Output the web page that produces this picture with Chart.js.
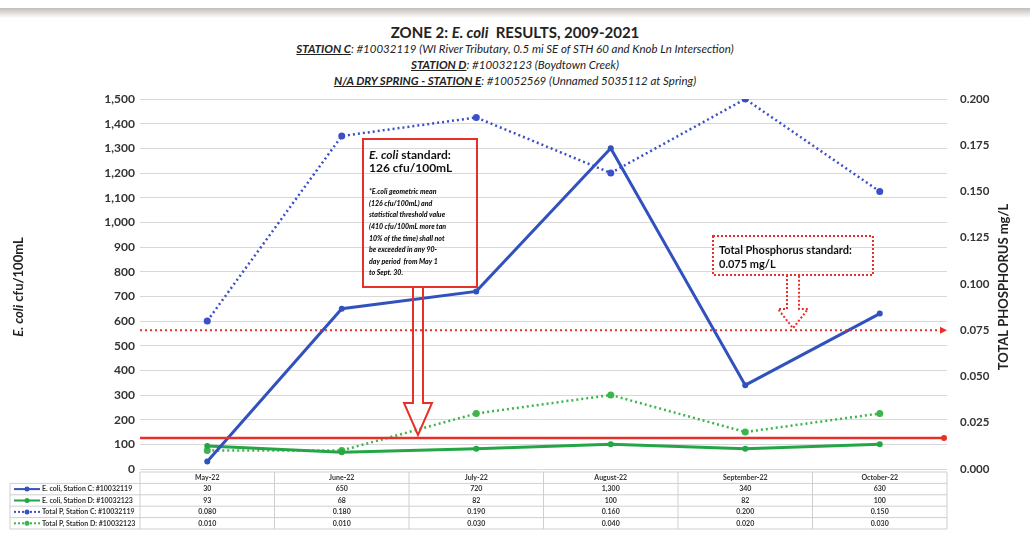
<!DOCTYPE html>
<html>
<head>
<meta charset="utf-8">
<script src="https://cdn.jsdelivr.net/npm/chart.js@4.4.0/dist/chart.umd.min.js"></script>
<style>
  body { margin: 0; background: #fff; }
  #wrap { position: relative; width: 1030px; height: 544px; overflow: hidden; font-family: Lato, 'Open Sans', sans-serif; }
  #scan { position: absolute; left: 0; top: 8px; width: 1030px; height: 10px; background: linear-gradient(#c4bdba, #fff); }
  #title { position: absolute; left: 0; top: 23px; width: 1030px; text-align: center; color: #222; }
  #title .t1 { font-size: 15px; font-weight: bold; line-height: 18px; }
  #title .t2 { font-size: 11.5px; font-style: italic; line-height: 16px; }
  #title u { font-weight: bold; }
  canvas { position: absolute; left: 0; top: 0; }
</style>
</head>
<body>
<div id="wrap">
  <div id="scan"></div>
  <div id="title">
    <div class="t1">ZONE 2: <i>E. coli</i>&nbsp; RESULTS, 2009-2021</div>
    <div class="t2"><u>STATION C</u>: #10032119 (WI River Tributary, 0.5 mi SE of STH 60 and Knob Ln Intersection)</div>
    <div class="t2"><u>STATION D</u>: #10032123 (Boydtown Creek)</div>
    <div class="t2"><u>N/A DRY SPRING - STATION E</u>: #10052569 (Unnamed 5035112 at Spring)</div>
  </div>
  <canvas id="chart" width="1030" height="544"></canvas>
</div>
<script>
// 월별 측정값
const MONTHS = ['May-22', 'June-22', 'July-22', 'August-22', 'September-22', 'October-22'];
const ECOLI_C = [30, 650, 720, 1300, 340, 630];
const ECOLI_D = [93, 68, 82, 100, 82, 100];
const TP_C = [0.080, 0.180, 0.190, 0.160, 0.200, 0.150];
const TP_D = [0.010, 0.010, 0.030, 0.040, 0.020, 0.030];
const SERIES_LABELS = [
  'E. coli, Station C: #10032119',
  'E. coli, Station D: #10032123',
  'Total P, Station C: #10032119',
  'Total P, Station D: #10032123'
];
const ECOLI_AXIS = [0, 1500, 100];   // min, max, step
const TP_AXIS = [0, 0.2, 0.025];
const ECOLI_STANDARD = 126;
const TP_STANDARD = 0.075;

const BLUE = '#3152be', GREEN = '#25a646', BLUE_D = '#3b4fc6', GREEN_D = '#3bb54c', RED = '#e8302a';
const FONT = 'Lato, "Open Sans", sans-serif';

function line(ctx, x1, y1, x2, y2) {
  ctx.beginPath(); ctx.moveTo(x1, y1); ctx.lineTo(x2, y2); ctx.stroke();
}

// 아래 방향 블록 화살표 (윤곽선만)
function blockArrow(ctx, cx, top, shaftW, headTop, headW, tip) {
  ctx.beginPath();
  ctx.moveTo(cx - shaftW / 2, top);
  ctx.lineTo(cx - shaftW / 2, headTop);
  ctx.lineTo(cx - headW / 2, headTop);
  ctx.lineTo(cx, tip);
  ctx.lineTo(cx + headW / 2, headTop);
  ctx.lineTo(cx + shaftW / 2, headTop);
  ctx.lineTo(cx + shaftW / 2, top);
  ctx.stroke();
}

const overlay = {
  id: 'overlay',
  afterDatasetsDraw(chart) {
    const { ctx, chartArea: ca } = chart;
    const y = chart.scales.y, y1 = chart.scales.y1;
    ctx.save();
    // E. coli 기준선
    const pe = y.getPixelForValue(ECOLI_STANDARD);
    ctx.strokeStyle = RED; ctx.lineWidth = 2.5;
    line(ctx, ca.left, pe, ca.right - 3, pe);
    ctx.fillStyle = RED;
    ctx.beginPath(); ctx.arc(ca.right - 3, pe, 3, 0, Math.PI * 2); ctx.fill();
    // 총인 기준선
    const pt = y1.getPixelForValue(TP_STANDARD);
    ctx.lineWidth = 2; ctx.setLineDash([2, 3]);
    line(ctx, ca.left, pt, ca.right - 6, pt);
    ctx.setLineDash([]);
    ctx.beginPath(); ctx.moveTo(ca.right - 7, pt - 3.5); ctx.lineTo(ca.right, pt); ctx.lineTo(ca.right - 7, pt + 3.5); ctx.fill();

    // E. coli 기준 설명 상자
    ctx.lineWidth = 2;
    ctx.strokeRect(363, 139, 114, 148);
    blockArrow(ctx, 418, 287, 10, 403, 28, pe - 3);
    ctx.fillStyle = '#111'; ctx.textBaseline = 'middle';
    ctx.font = `italic bold 12px ${FONT}`;
    ctx.fillText('E. coli', 369, 155);
    const w = ctx.measureText('E. coli').width;
    ctx.font = `bold 12px ${FONT}`;
    ctx.fillText(' standard:', 369 + w, 155);
    ctx.fillText('126 cfu/100mL', 369, 168);
    ctx.font = `italic 900 7px ${FONT}`;
    ['*E.coli geometric mean', '(126 cfu/100mL) and', 'statistical threshold value',
     '(410 cfu/100mL more tan', '10% of the time) shall not', 'be exceeded in any 90-',
     'day period  from May 1', 'to Sept. 30.'].forEach((t, i) => ctx.fillText(t, 369, 192 + i * 11.6));

    // 총인 기준 설명 상자 (점선)
    ctx.setLineDash([2, 2]); ctx.lineWidth = 2;
    ctx.strokeRect(713, 236, 160, 39);
    blockArrow(ctx, 793, 275, 12, 309, 30, pt - 2);
    ctx.setLineDash([]);
    ctx.font = `bold 11px ${FONT}`;
    ctx.fillText('Total Phosphorus standard:', 719, 250);
    ctx.fillText('0.075 mg/L', 719, 264);
    ctx.restore();
  },
  afterDraw(chart) {
    const { ctx, chartArea: ca } = chart;
    const x = chart.scales.x;
    ctx.save();
    // 축 제목
    ctx.fillStyle = '#222'; ctx.textBaseline = 'middle';
    ctx.save();
    ctx.translate(19, 287); ctx.rotate(-Math.PI / 2);
    ctx.font = `italic bold 13px ${FONT}`;
    const a = ctx.measureText('E. coli').width;
    ctx.font = `bold 13px ${FONT}`;
    const b = ctx.measureText(' cfu/100mL').width;
    ctx.font = `italic bold 13px ${FONT}`;
    ctx.fillText('E. coli', -(a + b) / 2, 0);
    ctx.font = `bold 13px ${FONT}`;
    ctx.fillText(' cfu/100mL', -(a + b) / 2 + a, 0);
    ctx.restore();
    ctx.save();
    ctx.translate(1004, 287); ctx.rotate(-Math.PI / 2);
    ctx.font = `bold 13px ${FONT}`; ctx.textAlign = 'center';
    ctx.fillText('TOTAL PHOSPHORUS mg/L', 0, 0);
    ctx.restore();

    // 데이터 테이블
    const step = x.getPixelForValue(1) - x.getPixelForValue(0);
    const L = 10, C = ca.left, R = ca.right, top = 472, rh = 11.4;
    const rows = [
      { label: SERIES_LABELS[0], color: BLUE, dash: [], vals: ECOLI_C.map(v => v.toLocaleString('en-US')) },
      { label: SERIES_LABELS[1], color: GREEN, dash: [], vals: ECOLI_D.map(v => v.toLocaleString('en-US')) },
      { label: SERIES_LABELS[2], color: BLUE_D, dash: [2, 2], vals: TP_C.map(v => v.toFixed(3)) },
      { label: SERIES_LABELS[3], color: GREEN_D, dash: [2, 2], vals: TP_D.map(v => v.toFixed(3)) }
    ];
    const bottom = top + rh * 5;
    ctx.strokeStyle = '#cfcfcf'; ctx.lineWidth = 1;
    line(ctx, C, top, R, top);
    for (let r = 1; r <= 5; r++) line(ctx, L, top + rh * r, R, top + rh * r);
    line(ctx, L, top + rh, L, bottom);
    line(ctx, C, top, C, bottom);
    MONTHS.forEach((m, i) => {
      const xr = x.getPixelForValue(i) + step / 2;
      line(ctx, xr, top, xr, bottom);
    });
    ctx.fillStyle = '#333'; ctx.font = `bold 7px ${FONT}`; ctx.textAlign = 'center';
    MONTHS.forEach((m, i) => ctx.fillText(m, x.getPixelForValue(i), top + rh / 2));
    rows.forEach((row, r) => {
      const cy = top + rh * (r + 1.5);
      row.vals.forEach((v, i) => ctx.fillText(v, x.getPixelForValue(i), cy));
      ctx.strokeStyle = row.color; ctx.lineWidth = 2; ctx.setLineDash(row.dash);
      line(ctx, 14, cy, 40, cy);
      ctx.setLineDash([]);
      ctx.fillStyle = row.color;
      ctx.beginPath(); ctx.arc(27, cy, 2.5, 0, Math.PI * 2); ctx.fill();
      ctx.fillStyle = '#333'; ctx.textAlign = 'left';
      ctx.fillText(row.label, 42, cy);
      ctx.textAlign = 'center';
    });
    ctx.restore();
  }
};

function series(label, data, color, axis, dashed) {
  return {
    label, data, yAxisID: axis,
    borderColor: color, backgroundColor: color,
    borderWidth: dashed ? 2.5 : 3,
    borderDash: dashed ? [2, 3] : [],
    pointRadius: dashed ? 3.5 : 3, pointBackgroundColor: color, pointBorderWidth: 0,
    tension: 0
  };
}

new Chart(document.getElementById('chart'), {
  type: 'line',
  data: {
    labels: MONTHS,
    datasets: [
      series(SERIES_LABELS[0], ECOLI_C, BLUE, 'y', false),
      series(SERIES_LABELS[1], ECOLI_D, GREEN, 'y', false),
      series(SERIES_LABELS[2], TP_C, BLUE_D, 'y1', true),
      series(SERIES_LABELS[3], TP_D, GREEN_D, 'y1', true)
    ]
  },
  options: {
    responsive: false, animation: false, devicePixelRatio: 1,
    layout: { padding: { top: 99, bottom: 75, left: 0, right: 0 } },
    plugins: { legend: { display: false }, tooltip: { enabled: false }, title: { display: false } },
    scales: {
      x: { type: 'category', offset: true, display: false, grid: { display: false } },
      y: {
        position: 'left', min: ECOLI_AXIS[0], max: ECOLI_AXIS[1],
        ticks: { stepSize: ECOLI_AXIS[2], padding: 5, color: '#333', font: { family: FONT, size: 12, weight: 'bold' },
                 callback: v => v.toLocaleString('en-US') },
        grid: { color: '#d8d8d8', drawTicks: false },
        border: { display: false },
        afterFit: s => { s.width = 140; }
      },
      y1: {
        position: 'right', min: TP_AXIS[0], max: TP_AXIS[1],
        ticks: { stepSize: TP_AXIS[2], padding: 13, color: '#333', font: { family: FONT, size: 11.5, weight: 'bold' },
                 callback: v => v.toFixed(3) },
        grid: { drawOnChartArea: false, drawTicks: false },
        border: { display: false },
        afterFit: s => { s.width = 83; }
      }
    }
  },
  plugins: [overlay]
});
</script>
</body>
</html>
